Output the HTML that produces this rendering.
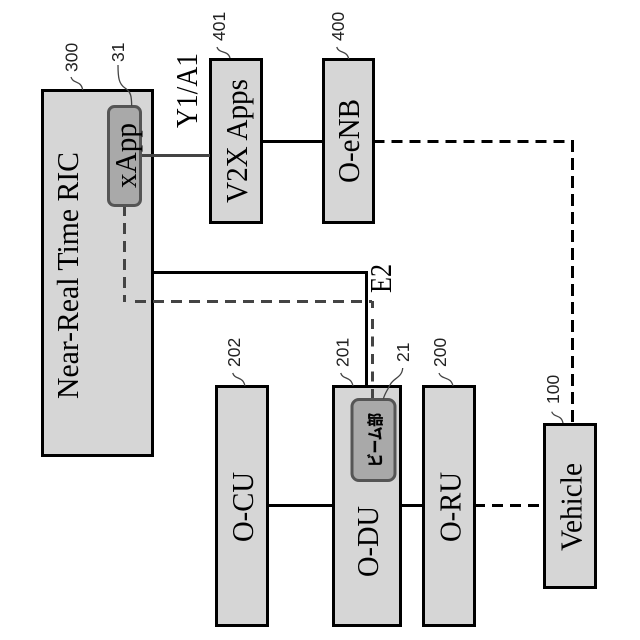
<!DOCTYPE html>
<html>
<head>
<meta charset="utf-8">
<style>
html,body{margin:0;padding:0;background:#fff;width:640px;height:640px;overflow:hidden}
svg{display:block}
.s{font-family:"Liberation Serif",serif;font-size:31px;fill:#000}
.n{font-family:"Liberation Sans",sans-serif;font-size:17.5px;fill:#222}
.j{font-family:"Liberation Sans","Noto Sans CJK JP",sans-serif;font-size:16px;font-weight:bold;fill:#000;stroke:#000;stroke-width:.3px}
</style>
</head>
<body>
<svg width="640" height="640" viewBox="0 0 640 640" xmlns="http://www.w3.org/2000/svg">
<g fill="none" stroke="#000" stroke-width="3">
<path d="M261 141.5H323"/>
<path d="M268 505.5H333"/>
<path d="M401 505.5H423"/>
<path d="M153 272.5H366.5V386"/>
<path d="M373.5 141.5H566" stroke-dasharray="11 7"/>
<path d="M572.5 140V424" stroke-dasharray="12 6"/>
<path d="M474 505.5H544" stroke-dasharray="11 7"/>
</g>
<g fill="#d6d6d6" stroke="#000" stroke-width="3">
<rect x="42.5" y="90.5" width="110" height="365"/>
<rect x="210.5" y="59.5" width="51" height="163"/>
<rect x="323.5" y="59.5" width="50" height="163"/>
<rect x="216.5" y="386.5" width="51" height="239"/>
<rect x="333.5" y="386.5" width="67" height="239"/>
<rect x="423.5" y="386.5" width="51" height="239"/>
<rect x="544.5" y="424.5" width="51" height="163"/>
</g>
<g fill="none" stroke="#444" stroke-width="3">
<path d="M124.5 205V302" stroke-dasharray="11 7"/>
<path d="M135 301.5H372" stroke-dasharray="11 7"/>
<path d="M372.5 301V308"/>
<path d="M372.5 319V399" stroke-dasharray="10 7.5"/>
<path d="M140 155.5H210"/>
</g>
<rect x="108.5" y="106.5" width="32" height="99" rx="6" fill="#a9a9a9" stroke="#555" stroke-width="3"/>
<rect x="352" y="399.5" width="43" height="81" rx="7" fill="#a9a9a9" stroke="#555" stroke-width="3"/>
<g fill="none" stroke="#444" stroke-width="1.3">
<path d="M71 77C73 84 81 80 82.7 90"/>
<path d="M118 65C118 78 119 84 125 88C131 92 131.5 96 131.7 106"/>
<path d="M217 47C219 54 228 50 230 58"/>
<path d="M336.7 47C339 54 347 50 348.7 59"/>
<path d="M232.7 373C235 380 243 376 245 386"/>
<path d="M340.7 373C343 380 351 376 353 386"/>
<path d="M402.7 368C402 378 393 378 390 385C387 391 385 393 383.3 399"/>
<path d="M439 373C441 380 451 376 453 386"/>
<path d="M551.7 411.7C554 418 561 414 563 423"/>
</g>
<g class="s">
<text class="s" transform="translate(78 399) rotate(-90)" textLength="247" lengthAdjust="spacingAndGlyphs">Near-Real Time RIC</text>
<text class="s" transform="translate(136 188) rotate(-90)" textLength="65" lengthAdjust="spacingAndGlyphs">xApp</text>
<text class="s" transform="translate(247 203) rotate(-90)" textLength="124" lengthAdjust="spacingAndGlyphs">V2X Apps</text>
<text class="s" transform="translate(359 183) rotate(-90)" textLength="84" lengthAdjust="spacingAndGlyphs">O-eNB</text>
<text class="s" transform="translate(197 128) rotate(-90)" textLength="75" lengthAdjust="spacingAndGlyphs">Y1/A1</text>
<text class="s" transform="translate(391 293) rotate(-90)" textLength="29" lengthAdjust="spacingAndGlyphs">E2</text>
<text class="s" transform="translate(253 542) rotate(-90)" textLength="70" lengthAdjust="spacingAndGlyphs">O-CU</text>
<text class="s" transform="translate(378 577) rotate(-90)" textLength="71" lengthAdjust="spacingAndGlyphs">O-DU</text>
<text class="s" transform="translate(460.5 542) rotate(-90)" textLength="70" lengthAdjust="spacingAndGlyphs">O-RU</text>
<text class="s" transform="translate(581.5 551) rotate(-90)" textLength="88" lengthAdjust="spacingAndGlyphs">Vehicle</text>
</g>
<text class="j" transform="translate(381 467) rotate(-90)" textLength="54" lengthAdjust="spacingAndGlyphs">ビーム部</text>
<g>
<text class="n" transform="translate(77.5 72) rotate(-90)">300</text>
<text class="n" transform="translate(124 62) rotate(-90)">31</text>
<text class="n" transform="translate(225 41) rotate(-90)">401</text>
<text class="n" transform="translate(344 41) rotate(-90)">400</text>
<text class="n" transform="translate(240 367) rotate(-90)">202</text>
<text class="n" transform="translate(348.5 367) rotate(-90)">201</text>
<text class="n" transform="translate(409 362) rotate(-90)">21</text>
<text class="n" transform="translate(446 367) rotate(-90)">200</text>
<text class="n" transform="translate(559 404) rotate(-90)">100</text>
</g>
</svg>
</body>
</html>
